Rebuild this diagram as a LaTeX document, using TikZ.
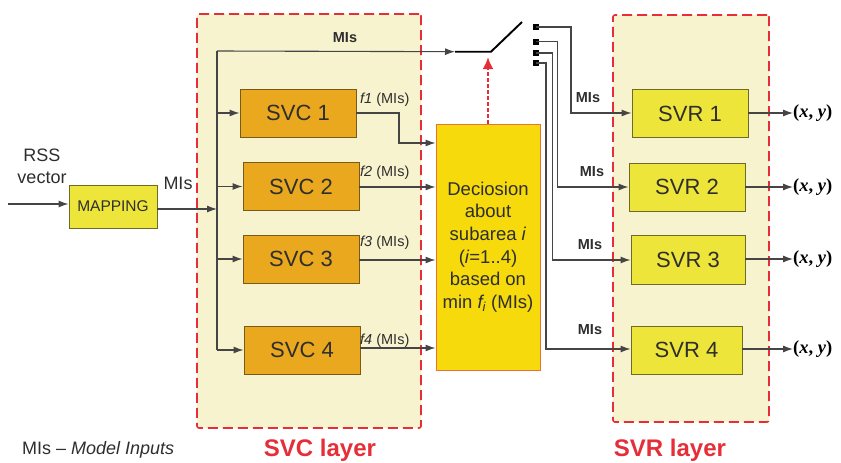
\documentclass[tikz,border=0pt]{standalone}
\usepackage{fontspec}
\setmainfont{Liberation Sans}
\newfontfamily\serifx{Liberation Serif}
\usetikzlibrary{arrows.meta}
\definecolor{layerbg}{HTML}{F8F3CF}
\definecolor{layerred}{HTML}{E62E38}
\definecolor{svcfill}{HTML}{E9A81E}
\definecolor{svcdraw}{HTML}{7A5A18}
\definecolor{svrfill}{HTML}{EDE53A}
\definecolor{svrdraw}{HTML}{6E6A28}
\definecolor{decfill}{HTML}{F6DA0C}
\definecolor{decdraw}{HTML}{EE7038}
\definecolor{wire}{HTML}{454545}
\definecolor{txt}{HTML}{2E2E2E}
\begin{document}
\begin{tikzpicture}[x=1pt,y=-1pt,
  layer/.style={draw=layerred, fill=layerbg, dash pattern=on 10pt off 5pt, line width=1.6pt, rounded corners=2pt, inner sep=0pt},
  svcbox/.style={draw=svcdraw, fill=svcfill, line width=0.9pt, minimum width=116pt, minimum height=48pt, inner sep=0pt, text=txt, font=\fontsize{22}{26}\selectfont},
  svrbox/.style={draw=svrdraw, fill=svrfill, line width=0.9pt, minimum height=48pt, inner sep=0pt, text=txt, font=\fontsize{22}{26}\selectfont},
  wirestyle/.style={draw=wire, line width=1.1pt},
  arr/.style={wirestyle, -{Latex[length=10pt,width=7pt]}},
  lbl/.style={text=txt, inner sep=0pt},
  flbl/.style={text=txt, inner sep=0pt, anchor=west, font=\fontsize{14.5}{16}\selectfont},
  mislbl/.style={text=txt, inner sep=0pt, font=\bfseries\fontsize{14.5}{16}\selectfont},
  xylbl/.style={text=black, inner sep=0pt, anchor=west, font=\serifx\bfseries\fontsize{18.5}{20}\selectfont},
  contact/.style={fill=black, minimum size=6pt, inner sep=0pt}
]
\useasboundingbox (0,0) rectangle (841,463);

% layers
\node[layer, minimum width=224pt, minimum height=414pt] (svclayer) at (309,221) {};
\node[layer, minimum width=156pt, minimum height=407pt] (svrlayer) at (691,218.5) {};

% input
\node[lbl, align=center, font=\fontsize{18}{22}\selectfont] (rss) at (42,166) {RSS\\vector};
\node[draw=svrdraw, fill=svrfill, line width=0.9pt, minimum width=88pt, minimum height=43pt, inner sep=0pt, text=txt, font=\fontsize{15.5}{18}\selectfont] (map) at (113,206.5) {MAPPING};
\coordinate (in) at (8,204);
\draw[arr] (in) -- (map.west |- in);
\node[lbl, font=\fontsize{18}{22}\selectfont] (mis0) at (178,183) {MIs};

% SVC boxes
\node[svcbox] (svc1) at (298,113) {SVC 1};
\node[svcbox] (svc2) at (301,186.5) {SVC 2};
\node[svcbox] (svc3) at (301,259) {SVC 3};
\node[svcbox] (svc4) at (302,350) {SVC 4};

% bus
\coordinate (busT) at (217,51);
\coordinate (busB) at (217,350);
\coordinate (busIn) at (217,209);
\draw[wirestyle] (busT) -- (busB);
\draw[arr] (map.east |- busIn) -- (busIn);
\draw[arr] (busT |- svc1) -- (svc1.west);
\draw[arr] (busT |- svc2) -- (svc2.west);
\draw[arr] (busT |- svc3) -- (svc3.west);
\draw[arr] (busT |- svc4) -- (svc4.west);

% decision
\node[draw=decdraw, fill=decfill, line width=1pt, minimum width=104pt, minimum height=246pt, inner sep=0pt, text=txt, align=center, font=\fontsize{18.5}{22.6}\selectfont] (dec) at (488,247)
  {Deciosion\\about\\subarea \textit{i}\\(\textit{i}=1..4)\\based on\\min \textit{f\textsubscript{i}} (MIs)};

% switch
\coordinate (swA) at (455,51.7);
\coordinate (swB) at (491,51.7);
\coordinate (swC) at (522,22);
\draw[arr] (busT) -- (swA);
\node[mislbl] (mistop) at (345,38) {MIs};
\draw[black, line width=1.9pt] (swA) -- (swB) -- (swC);
\coordinate (swArrow) at (488,57);
\draw[layerred, line width=2.4pt, dash pattern=on 3.5pt off 2.5pt, -{Latex[length=12pt,width=11pt]}] (dec.north -| swArrow) -- (swArrow);

% f lines
\coordinate (f1bend) at (399,113);
\draw[arr] (svc1.east) -- (f1bend) -- (399,143) -- (dec.west |- 0,143);
\draw[arr] (svc2.east |- 0,187) -- (dec.west |- 0,187);
\draw[arr] (svc3.east |- 0,260) -- (dec.west |- 0,260);
\draw[arr] (svc4.east |- 0,348) -- (dec.west |- 0,348);
\node[flbl] (f1l) at (360,100) {\textit{f1} (MIs)};
\node[flbl] (f2l) at (360,173) {\textit{f2} (MIs)};
\node[flbl] (f3l) at (360,243) {\textit{f3} (MIs)};
\node[flbl] (f4l) at (360,341) {\textit{f4} (MIs)};

% SVR boxes
\node[svrbox, minimum width=116pt] (svr1) at (690,113.5) {SVR 1};
\node[svrbox, minimum width=116pt] (svr2) at (687,187) {SVR 2};
\node[svrbox, minimum width=114pt, minimum height=49pt] (svr3) at (688,259.5) {SVR 3};
\node[svrbox, minimum width=111pt] (svr4) at (686.5,350) {SVR 4};

% contacts
\node[contact] (c1) at (536,27) {};
\node[contact] (c2) at (536,41.5) {};
\node[contact] (c3) at (536,53) {};
\node[contact] (c4) at (536,63) {};
\draw[arr] (c1.center) -- (571,27) -- (571,113) -- (svr1.west |- 0,113);
\draw[arr] (c2.center) -- (557.5,41.5) -- (557.5,187) -- (svr2.west |- 0,187);
\draw[arr] (c3.center) -- (552.5,53) -- (552.5,260) -- (svr3.west |- 0,260);
\draw[arr] (c4.center) -- (546,63) -- (546,349) -- (svr4.west |- 0,349);
\node[mislbl] (m1) at (588,98) {MIs};
\node[mislbl] (m2) at (592,172) {MIs};
\node[mislbl] (m3) at (590,245) {MIs};
\node[mislbl] (m4) at (590,330) {MIs};

% outputs
\node[xylbl] (o1) at (793,113) {(\textit{x}, \textit{y})};
\node[xylbl] (o2) at (793,187) {(\textit{x}, \textit{y})};
\node[xylbl] (o3) at (793,259) {(\textit{x}, \textit{y})};
\node[xylbl] (o4) at (793,349) {(\textit{x}, \textit{y})};
\draw[arr] (svr1.east |- 0,113) -- (o1.west);
\draw[arr] (svr2.east |- 0,187) -- (o2.west);
\draw[arr] (svr3.east |- 0,259) -- (o3.west);
\draw[arr] (svr4.east |- 0,349) -- (o4.west);

% bottom labels
\node[lbl, anchor=west, font=\fontsize{18}{22}\selectfont] (legend) at (22,450) {MIs -- \textit{Model Inputs}};
\node[lbl, text=layerred, font=\bfseries\fontsize{24}{28}\selectfont] (svcl) at (320,450) {SVC layer};
\node[lbl, text=layerred, font=\bfseries\fontsize{24}{28}\selectfont] (svrl) at (670,450) {SVR layer};
\end{tikzpicture}
\end{document}
